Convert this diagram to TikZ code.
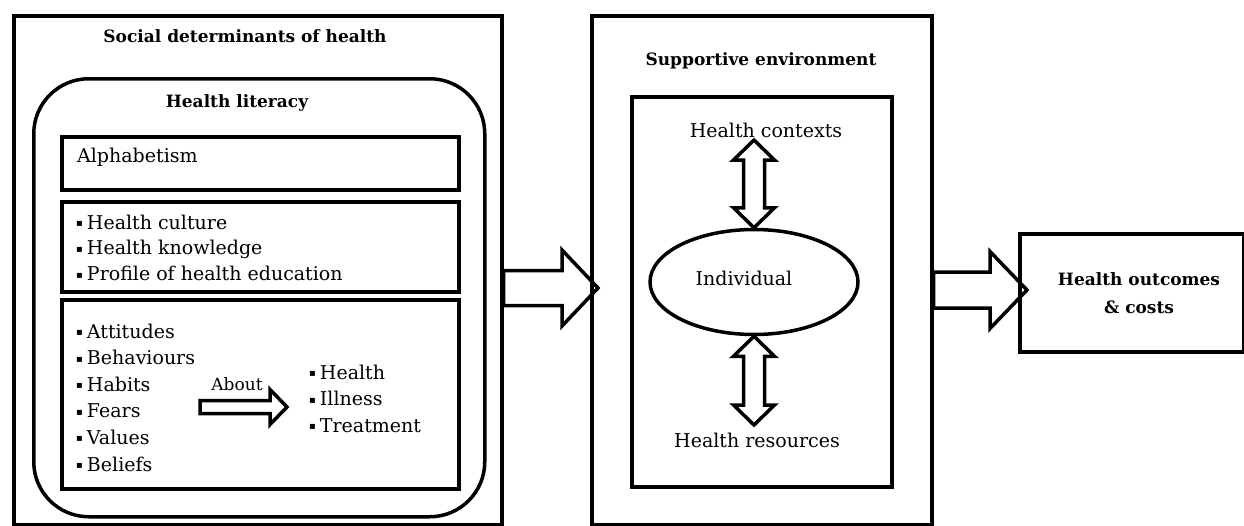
\documentclass[tikz,border=0pt]{standalone}
\usepackage{fontspec}
\setmainfont{DejaVu Serif}
\newfontfamily\bulletfont{DejaVu Sans}
\usetikzlibrary{positioning,shapes.geometric,calc}

\newcommand{\bul}{{\bulletfont\fontsize{10}{10}\selectfont\raisebox{2.5pt}{▪}}\hspace{4pt}}
% hollow block arrow: tail, tip, shaft half, head half, head length
\newcommand{\hollowarrow}[5]{%
  \draw[hollow] let \p1=(#1), \p2=(#2) in
    (\x1,\y1+#3) -- (\x2-#5,\y1+#3) -- (\x2-#5,\y1+#4) -- (\x2,\y1)
    -- (\x2-#5,\y1-#4) -- (\x2-#5,\y1-#3) -- (\x1,\y1-#3) -- cycle;}
% hollow double arrow, vertical: top tip, bottom tip, shaft half, head half, head length
\newcommand{\doublearrow}[5]{%
  \draw[hollow] let \p1=(#1), \p2=(#2) in
    (\x1,\y1) -- (\x1+#4,\y1-#5) -- (\x1+#3,\y1-#5) -- (\x1+#3,\y2+#5)
    -- (\x1+#4,\y2+#5) -- (\x1,\y2) -- (\x1-#4,\y2+#5) -- (\x1-#3,\y2+#5)
    -- (\x1-#3,\y1-#5) -- (\x1-#4,\y1-#5) -- cycle;}

\begin{document}
\begin{tikzpicture}[x=1pt,y=-1pt,
  box/.style={draw,line width=3.5pt,anchor=north west,inner sep=0pt},
  title/.style={anchor=base,inner sep=0pt,font=\bfseries\fontsize{17}{28}\selectfont},
  txt/.style={anchor=base,inner sep=0pt,font=\fontsize{19}{24}\selectfont},
  item/.style={txt,anchor=base west},
  hollow/.style={draw,line width=3.5pt,line join=miter}]
  \useasboundingbox (0,0) rectangle (1244,525);

  %1
  \node[box,minimum width=488pt,minimum height=509pt] (sdh) at (12,14) {};
  \node[title] (sdht) at (245,42) {Social determinants of health};
  \node[box,rounded corners=55pt,minimum width=451pt,minimum height=438pt] (hl) at (32,77) {};
  \node[title] (hlt) at (237,107) {Health literacy};

  \node[box,minimum width=397pt,minimum height=53pt] (alpha) at (60,135) {};
  \node[item] (alphat) at (77,162) {Alphabetism};

  \node[box,minimum width=397pt,minimum height=90pt] (know) at (60,200) {};
  \foreach \t [count=\i] in {Health culture,Health knowledge,Profile of health education}
    \node[item] (k\i) at (76,{203.2+25.8*\i}) {\bul\t};

  \node[box,minimum width=397pt,minimum height=189pt] (attit) at (60,298) {};
  \foreach \t [count=\i] in {Attitudes,Behaviours,Habits,Fears,Values,Beliefs}
    \node[item] (a\i) at (76,{311.4+26.6*\i}) {\bul\t};
  \foreach \t [count=\i] in {Health,Illness,Treatment}
    \node[item] (h\i) at (309,{352.5+26.6*\i}) {\bul\t};
  \node[txt,font=\fontsize{17}{20}\selectfont] (about) at (237,390) {About};
  \coordinate (abs) at (200,407);
  \coordinate (abe) at (287,407);
  \hollowarrow{abs}{abe}{6.5pt}{17.5pt}{17pt}

  %2
  \node[box,minimum width=340pt,minimum height=509pt] (se) at (590,14) {};
  \node[title] (set) at (761,65) {Supportive environment};
  \node[box,minimum width=260pt,minimum height=390pt] (inner) at (630,95) {};
  \node[txt] (ctx) at (766,137) {Health contexts};
  \node[draw,ellipse,line width=3.5pt,minimum width=208pt,minimum height=105pt] (ind) at (754,282) {};
  \node[txt] (indt) at (744,285) {Individual};
  \node[txt] (res) at (757,447) {Health resources};
  \coordinate (ctxtip) at (ind.north |- 0,140);
  \coordinate (restip) at (ind.south |- 0,425);
  \doublearrow{ctxtip}{ind.north}{10.5pt}{20.5pt}{20pt}
  \doublearrow{ind.south}{restip}{10.5pt}{20.5pt}{20pt}

  %3
  \node[box,minimum width=224pt,minimum height=118pt] (out) at (1018,232) {};
  \node[title,anchor=center,align=center] (outt) at (1139,293) {Health outcomes\\\& costs};

  % block arrows
  \coordinate (b1s) at (sdh.east |- 0,288);
  \coordinate (b1e) at ($(se.west |- 0,288)+(8,0)$);
  \hollowarrow{b1s}{b1e}{17.5pt}{38pt}{36pt}
  \coordinate (b2s) at (se.east |- 0,290);
  \coordinate (b2e) at ($(out.west |- 0,290)+(9,0)$);
  \hollowarrow{b2s}{b2e}{18pt}{38.5pt}{37pt}
\end{tikzpicture}
\end{document}
